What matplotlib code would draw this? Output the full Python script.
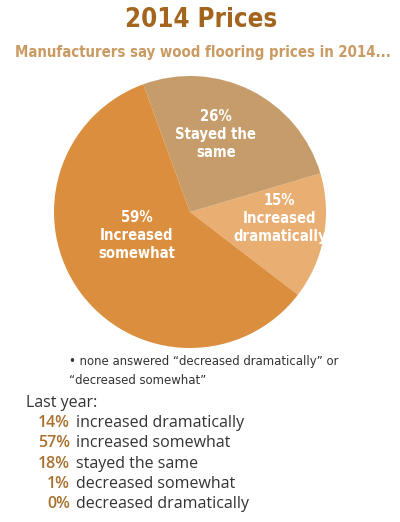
import numpy as np
import matplotlib.pyplot as plt

# 2014 survey answers, drawn counter-clockwise from the lower right
slice_names = ["Increased\ndramatically", "Stayed the\nsame", "Increased\nsomewhat"]
slice_pct = [15, 26, 59]
slice_colors = ["#E8AE72", "#C59C6A", "#DB8E3E"]
# label placement inside each wedge (x, y in pie units)
label_xy = [(0.66, -0.05), (0.19, 0.57), (-0.39, -0.17)]

last_year_pct = [14, 57, 18, 1, 0]
last_year_names = ["increased dramatically", "increased somewhat",
                   "stayed the same", "decreased somewhat", "decreased dramatically"]

W, H = 400, 522
fig = plt.figure(figsize=(W / 100, H / 100), dpi=100)
fig.patch.set_facecolor("white")

narrow = dict(family="DejaVu Sans", fontstretch="condensed")

def px(x, y):
    return x / W, 1 - y / H

# pie, center ~(190, 212), radius ~136 px
cx, cy, r = 190, 212, 136
ax = fig.add_axes([(cx - r) / W, 1 - (cy + r) / H, 2 * r / W, 2 * r / H])
ax.pie(slice_pct, colors=slice_colors, startangle=-37.5, counterclock=True,
       radius=1, wedgeprops=dict(linewidth=0))
ax.set_xlim(-1, 1)
ax.set_ylim(-1, 1)
ax.set_aspect("equal")
ax.axis("off")
for name, pct, (lx, ly) in zip(slice_names, slice_pct, label_xy):
    ax.text(lx, ly, f"{pct}%\n{name}", ha="center", va="center", color="white",
            fontsize=10.6, fontweight="bold", linespacing=1.25, **narrow)

fig.text(*px(201, 20), "2014 Prices", ha="center", va="center",
         fontsize=18.5, fontweight="bold", color="#A3651E", **narrow)
fig.text(*px(203, 52), "Manufacturers say wood flooring prices in 2014...",
         ha="center", va="center", fontsize=10.7, fontweight="bold",
         color="#C99A62", **narrow)

fig.text(*px(69, 361), "\u2022 none answered \u201cdecreased dramatically\u201d or",
         ha="left", va="center", fontsize=9.4, color="#333333", **narrow)
fig.text(*px(69, 380), "\u201cdecreased somewhat\u201d",
         ha="left", va="center", fontsize=9.4, color="#333333", **narrow)

fig.text(*px(26, 403), "Last year:", ha="left", va="center",
         fontsize=11.5, color="#333333", family="Open Sans")
for i, (p, n) in enumerate(zip(last_year_pct, last_year_names)):
    y = 423 + i * 20.3
    fig.text(*px(70, y), f"{p}%", ha="right", va="center", fontsize=11.5,
             fontweight="semibold", color="#A8702C", family="Open Sans")
    fig.text(*px(76, y), n, ha="left", va="center", fontsize=11.5,
             color="#333333", family="Open Sans")

plt.savefig("out.png", dpi=100)
